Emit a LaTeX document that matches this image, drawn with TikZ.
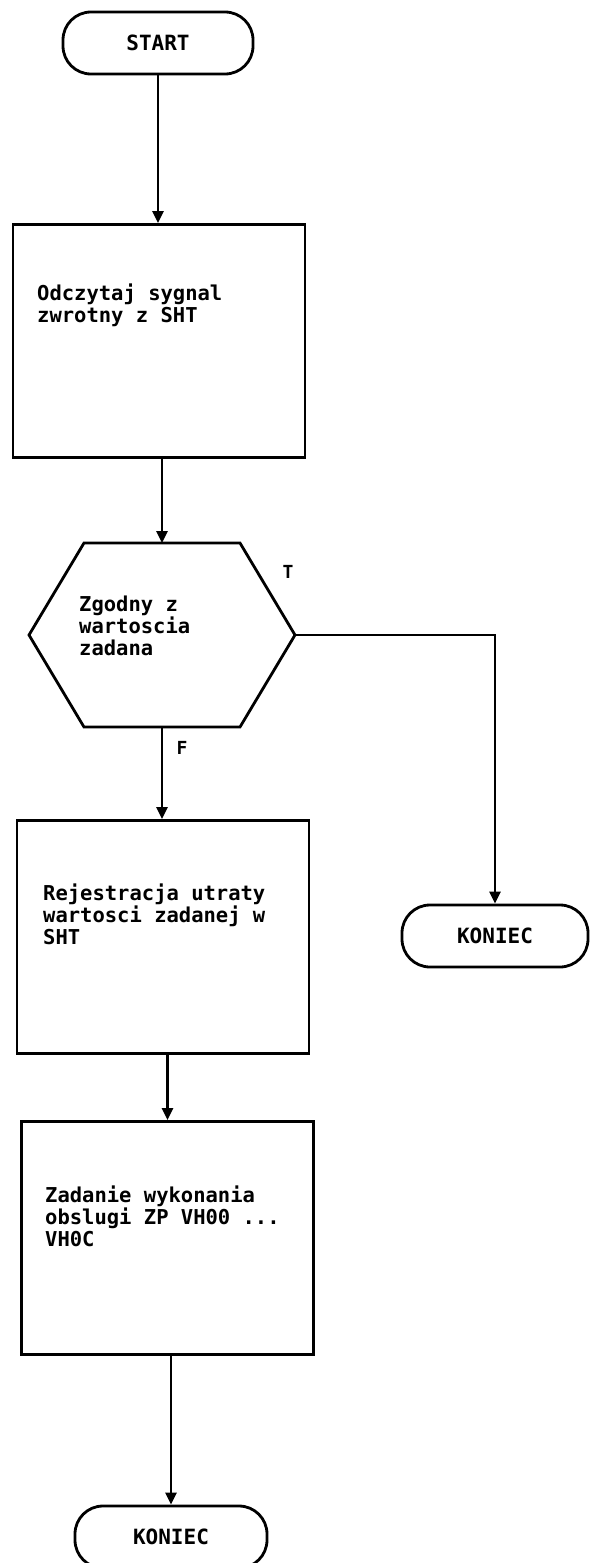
\documentclass[tikz,border=0pt]{standalone}
\usepackage{fontspec}
\newfontfamily\pixfont{DejaVu Sans Mono}
\usetikzlibrary{arrows.meta,calc}

\tikzset{
  linia/.style={line width=2.8pt},
  strzalka/.style={linia,-{Triangle[length=12pt,width=11pt]}},
  terminal/.style={draw,linia,rounded corners=28pt,minimum width=190pt,minimum height=62pt,
    font=\pixfont\bfseries\fontsize{21}{22}\selectfont},
  blok/.style={draw,linia,minimum width=292pt,minimum height=233pt},
  opis/.style={anchor=north west,inner sep=0pt,align=left,
    font=\pixfont\bfseries\fontsize{20.5}{22}\selectfont},
  etykieta/.style={font=\pixfont\bfseries\fontsize{18}{18}\selectfont}
}

\begin{document}
\begin{tikzpicture}[x=1pt,y=-1pt]
        \useasboundingbox (0,0) rectangle (589,1563);

        % Poczatek
        \node[terminal] (start) at (158,43) {START};

        % Odczyt sygnalu
        \node[blok] (odczyt) at (159,341) {};
        \node[opis] (odczyt-txt) at (37,284) {Odczytaj sygnal\\zwrotny z SHT};

        % Warunek
        \coordinate (war) at (162,635);
        \draw[linia] ($(war)+(-78,-92)$) -- ($(war)+(78,-92)$) -- ($(war)+(133,0)$)
            -- ($(war)+(78,92)$) -- ($(war)+(-78,92)$) -- ($(war)+(-133,0)$) -- cycle;
        \coordinate (war-n) at ($(war)+(0,-92)$);
        \coordinate (war-s) at ($(war)+(0,92)$);
        \coordinate (war-e) at ($(war)+(133,0)$);
        \node[opis] (war-txt) at (79,596) {Zgodny z\\wartoscia\\zadana};
        \node[etykieta] (tak) at (288,572) {T};
        \node[etykieta] (nie) at (182,748) {F};

        % Koniec (prawa galaz)
        \node[terminal,minimum width=186pt] (koniec1) at (495,936) {KONIEC};

        % Rejestracja
        \node[blok] (rejestr) at (163,937) {};
        \node[opis] (rejestr-txt) at (43,884) {Rejestracja utraty\\wartosci zadanej w\\SHT};

        % Zadanie obslugi
        \node[blok] (zadanie) at (167.5,1238) {};
        \node[opis] (zadanie-txt) at (45,1186) {Zadanie wykonania\\obslugi ZP VH00 ...\\VH0C};

        % Koniec (dol)
        \node[terminal,minimum width=192pt] (koniec2) at (171,1537) {KONIEC};

        % Polaczenia
        \draw[strzalka] (start.south) -- (start.south |- odczyt.north);
        \draw[strzalka] (war-n |- odczyt.south) -- (war-n);
        \draw[strzalka] (war-s) -- (war-s |- rejestr.north);
        \draw[strzalka] (war-e) -| (koniec1.north);
        \draw[strzalka] (zadanie.north |- rejestr.south) -- (zadanie.north);
        \draw[strzalka] (koniec2.north |- zadanie.south) -- (koniec2.north);
    \end{tikzpicture}
\end{document}
